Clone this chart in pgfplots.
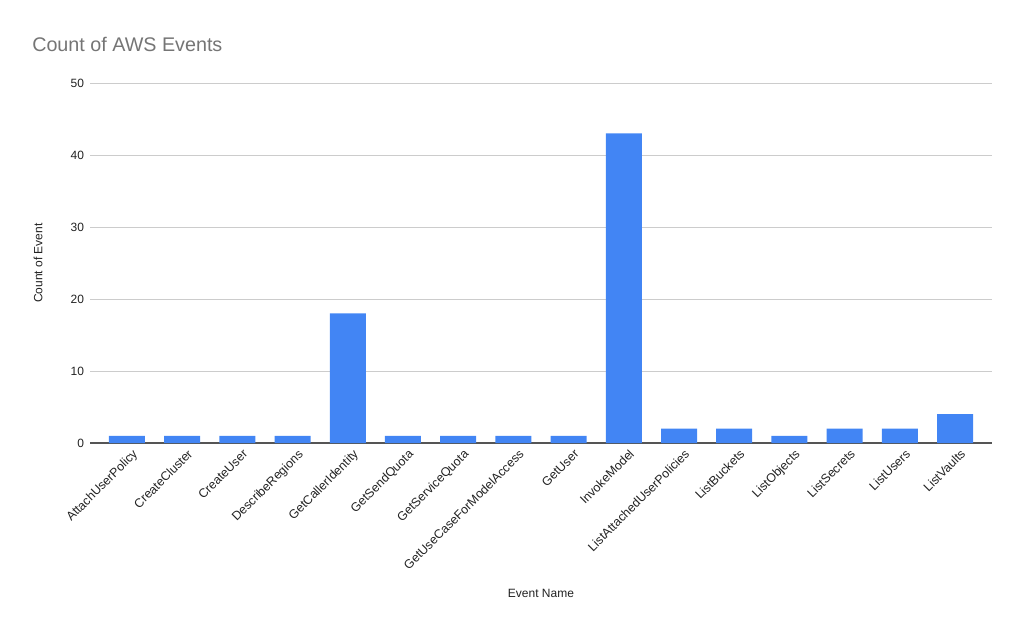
\documentclass[border=0pt]{standalone}
\usepackage{fontspec}
\setmainfont{Liberation Sans}
\usepackage{pgfplots}
\pgfplotsset{compat=1.18}
\definecolor{barblue}{HTML}{4285F4}
\definecolor{gridgray}{HTML}{CCCCCC}
\definecolor{basegray}{HTML}{555555}
\definecolor{titlegray}{HTML}{757575}
\definecolor{labelblack}{HTML}{222222}
\begin{document}
\begin{tikzpicture}
% canvas = 1024 x 633 px at 0.75pt per px, axis box at px (90..992, 83..443)
\path[use as bounding box] (-67.5pt,-142.5pt) rectangle (700.5pt,332.25pt);
\begin{axis}[
    at={(0,0)}, anchor=south west,
    scale only axis,
    width=676.5pt, height=270pt,
    ybar, bar width=27pt,
    enlargelimits=false,
    xmin=-0.67, xmax=15.67,
    ymin=0, ymax=50,
    xtick=data,
    xticklabels={AttachUserPolicy,CreateCluster,CreateUser,DescribeRegions,GetCallerIdentity,GetSendQuota,GetServiceQuota,GetUseCaseForModelAccess,GetUser,InvokeModel,ListAttachedUserPolicies,ListBuckets,ListObjects,ListSecrets,ListUsers,ListVaults},
    ytick={0,10,20,30,40,50},
    ymajorgrids=true,
    grid style={draw=gridgray, line width=0.6pt},
    axis x line*=bottom, axis y line*=left,
    x axis line style={draw=basegray, line width=0.9pt, -},
    y axis line style={draw=none},
    major tick length=0pt,
    tick style={draw=none},
    /pgf/number format/assume math mode=true,
    yticklabel style={font=\fontsize{9}{11}\selectfont, text=labelblack, anchor=east, xshift=-1pt},
    xticklabel style={font=\fontsize{9.3}{11}\selectfont, text=labelblack, rotate=45, anchor=north east, xshift=3pt, yshift=-2pt},
    xlabel={Event Name},
    ylabel={Count of Event},
    every axis x label/.style={at={(axis description cs:0.5,0)}, yshift=-112.5pt, anchor=center, font=\fontsize{9}{11}\selectfont, text=labelblack},
    every axis y label/.style={at={(axis description cs:0,0.5)}, xshift=-39pt, rotate=90, anchor=center, font=\fontsize{9}{11}\selectfont, text=labelblack},
]
\addplot[fill=barblue, draw=none] coordinates {
    (0,1) (1,1) (2,1) (3,1) (4,18) (5,1) (6,1) (7,1)
    (8,1) (9,43) (10,2) (11,2) (12,1) (13,2) (14,2) (15,4)
};
\end{axis}
\node[anchor=west, inner sep=0pt, text=titlegray, font=\fontsize{14.8}{17}\selectfont] at (-43.5pt,299.25pt) {Count of AWS Events};
\end{tikzpicture}
\end{document}
